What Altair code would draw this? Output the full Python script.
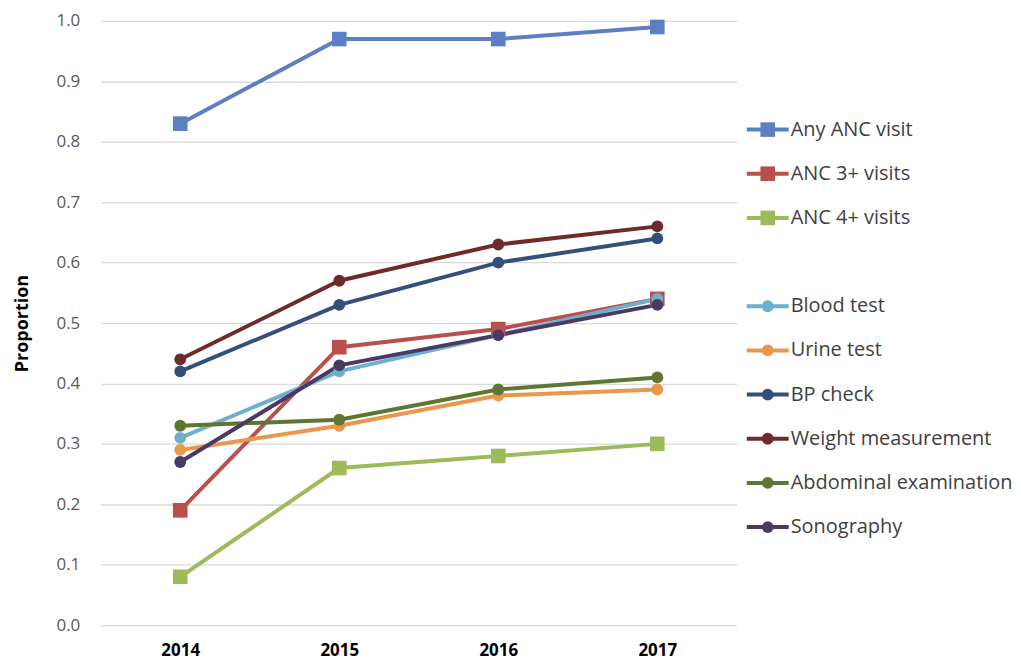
import altair as alt
import pandas as pd

years = ["2014", "2015", "2016", "2017"]
series = ["Any ANC visit", "ANC 3+ visits", "ANC 4+ visits", "Blood test", "Urine test",
          "BP check", "Weight measurement", "Abdominal examination", "Sonography"]
any_anc = [0.83, 0.97, 0.97, 0.99]
anc3 = [0.19, 0.46, 0.49, 0.54]
anc4 = [0.08, 0.26, 0.28, 0.30]
blood = [0.31, 0.42, 0.48, 0.54]
urine = [0.29, 0.33, 0.38, 0.39]
bp = [0.42, 0.53, 0.60, 0.64]
weight = [0.44, 0.57, 0.63, 0.66]
abdominal = [0.33, 0.34, 0.39, 0.41]
sono = [0.27, 0.43, 0.48, 0.53]
values = [any_anc, anc3, anc4, blood, urine, bp, weight, abdominal, sono]
shapes = ["square", "square", "square", "circle", "circle", "circle", "circle", "circle", "circle"]
colors = ["#5B7FC0", "#B9504D", "#9DBB5A", "#6EB0CC", "#E8974B", "#34507A", "#6E2B2A", "#5F7632", "#4A3A63"]
legend_pos = [0, 1, 2, 4, 5, 6, 7, 8, 9]

FONT = "Open Sans"

rows = []
for i, (s, vals) in enumerate(zip(series, values)):
    for y, v in zip(years, vals):
        rows.append({"series": s, "year": y, "value": v, "shape": shapes[i], "ord": i})
df = pd.DataFrame(rows)

leg = pd.DataFrame({"series": series, "pos": legend_pos, "shape": shapes, "ord": list(range(9))})

color = alt.Color("series:N", scale=alt.Scale(domain=series, range=colors), legend=None)
shape = alt.Shape("shape:N", scale=alt.Scale(domain=["square", "circle"], range=["square", "circle"]), legend=None)
size = alt.Size("shape:N", scale=alt.Scale(domain=["square", "circle"], range=[215, 140]), legend=None)

xenc = alt.X("year:O", scale=alt.Scale(domain=years, paddingOuter=0.5),
             axis=alt.Axis(title=None, labelAngle=0, labelFont=FONT, labelFontSize=17,
                           labelFontWeight="bold", labelColor="#000000", domain=False,
                           ticks=False, grid=False, labelPadding=17))
yenc = alt.Y("value:Q", scale=alt.Scale(domain=[0, 1], nice=False),
             axis=alt.Axis(title="Proportion", values=[i / 10 for i in range(11)], format=".1f",
                           labelFont=FONT, labelFontSize=17, labelColor="#595959",
                           titleFont=FONT, titleFontSize=18, titleFontWeight="bold",
                           titleColor="#000000", titlePadding=25, labelPadding=21,
                           domain=False, ticks=False, gridColor="#D9D9D9", gridWidth=1.3))

lines = alt.Chart(df).mark_line(strokeWidth=4).encode(
    x=xenc, y=yenc, color=color, detail="series:N", order="ord:Q")
points = alt.Chart(df).mark_point(filled=True, opacity=1).encode(
    x="year:O", y="value:Q", color=color, shape=shape, size=size, detail="series:N")

PH = 606
main = alt.layer(lines, points).properties(width=638, height=PH)

ly = alt.Y("pos:Q", scale=alt.Scale(domain=[-2.46, 11.22], reverse=True, nice=False, zero=False), axis=None)
lrule = alt.Chart(leg).mark_rule(strokeWidth=4).encode(
    x=alt.value(0), x2=alt.value(42), y=ly, color=color)
lpt = alt.Chart(leg).mark_point(filled=True, opacity=1).encode(
    x=alt.value(21), y=ly, color=color, shape=shape,
    size=alt.Size("shape:N", scale=alt.Scale(domain=["square", "circle"], range=[170, 110]), legend=None))
ltxt = alt.Chart(leg).mark_text(align="left", baseline="middle", font=FONT, fontSize=20,
                                color="#404040").encode(
    x=alt.value(44), y=ly, text="series:N")
legend = alt.layer(lrule, lpt, ltxt).properties(width=220, height=PH)

chart = alt.hconcat(main, legend, spacing=8).configure_view(stroke=None).properties(
    padding={"left": 5, "top": 3, "right": 0, "bottom": 2})

chart.save("out.html", embed_options={"renderer": "svg", "actions": False})
